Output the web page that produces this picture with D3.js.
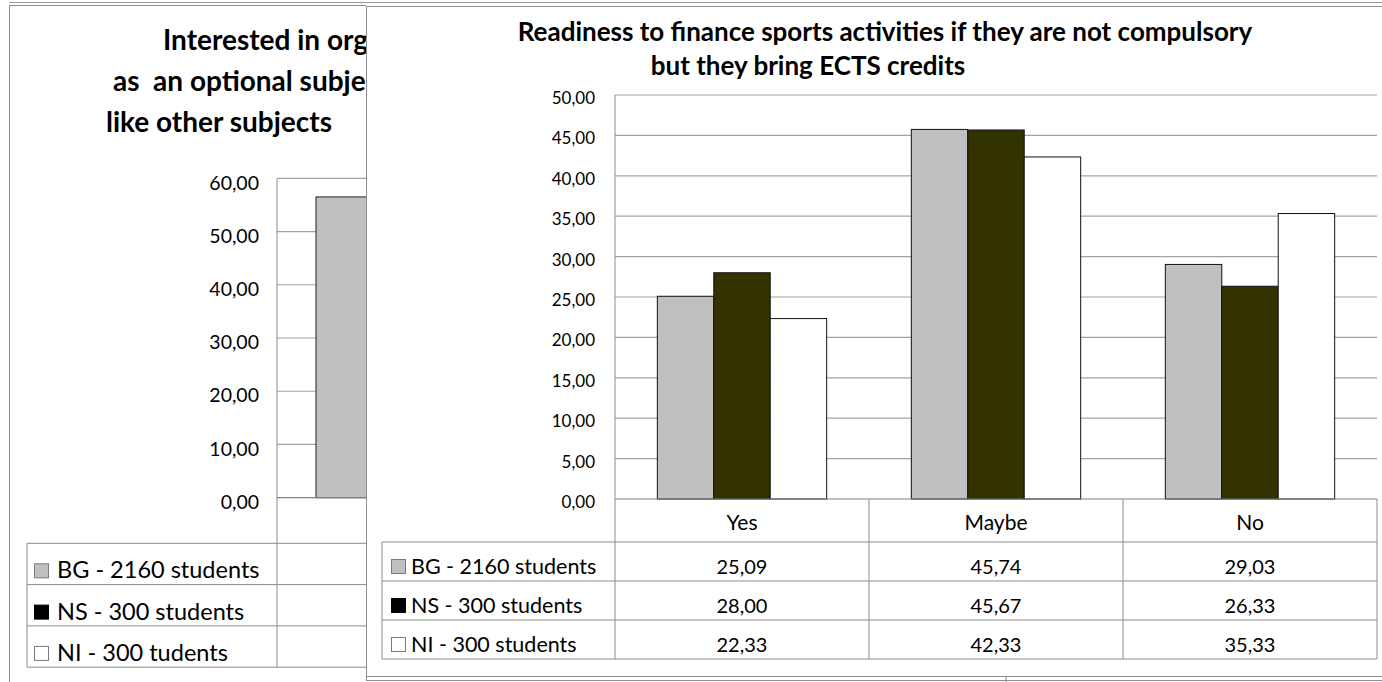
<!DOCTYPE html>
<html>
<head>
<meta charset="utf-8">
<script src="https://cdn.jsdelivr.net/npm/d3@7"></script>
<style>
  html, body { margin: 0; padding: 0; background: #fff; }
  svg { display: block; font-family: Lato, "Open Sans", sans-serif; }
</style>
</head>
<body>
<svg id="chart" width="1382" height="682"></svg>
<script>
// ---- Front chart: readiness to finance sports activities ----
const categories = ["Yes", "Maybe", "No"];
const seriesNames = ["BG - 2160 students", "NS - 300 students", "NI - 300 students"];
const bgValues = [25.09, 45.74, 29.03];
const nsValues = [28.00, 45.67, 26.33];
const niValues = [22.33, 42.33, 35.33];
const yTicks = [0, 5, 10, 15, 20, 25, 30, 35, 40, 45, 50];
const titleLines = ["Readiness to finance sports activities if they are not compulsory",
                    "but they bring ECTS credits"];

// ---- Chart lying underneath (only its left edge shows) ----
const backTitleLines = ["Interested in organized", "as  an optional subject", "like other subjects"];
const backSeriesNames = ["BG - 2160 students", "NS - 300 students", "NI - 300 tudents"];
const backBgValues = [56.5];
const backYTicks = [0, 10, 20, 30, 40, 50, 60];

const seriesColors = ["#c0c0c0", "#333300", "#ffffff"];
const keyColors = ["#c0c0c0", "#000000", "#ffffff"];

const W = 1382, H = 682;
const lineColor = "#8c8c8c";
const gridColor = "#a3a3a3";
const textColor = "#000";

const locale = d3.formatLocale({ decimal: ",", thousands: " ", grouping: [3], currency: ["", ""] });
const fmt = locale.format(".2f");

const svg = d3.select("#chart");
const defs = svg.append("defs");

function hline(g, x1, x2, yv, color, w) {
  g.append("line").attr("x1", x1).attr("x2", x2).attr("y1", yv).attr("y2", yv)
    .attr("stroke", color || lineColor).attr("stroke-width", w || 1);
}
function vline(g, xv, y1, y2, color, w) {
  g.append("line").attr("x1", xv).attr("x2", xv).attr("y1", y1).attr("y2", y2)
    .attr("stroke", color || lineColor).attr("stroke-width", w || 1);
}

// outer frame line along the top
hline(svg, 9, W, 2.5, "#999");

// ================= underlying chart =================
defs.append("clipPath").attr("id", "backClip")
  .append("rect").attr("x", 0).attr("y", 0).attr("width", 366).attr("height", H);
const back = svg.append("g").attr("clip-path", "url(#backClip)");

back.append("rect").attr("x", 9.5).attr("y", 5.5).attr("width", W).attr("height", H)
  .attr("fill", "#fff").attr("stroke", lineColor);

const backTitleX = [163, 113, 106];
back.append("g").selectAll("text").data(backTitleLines).join("text")
  .attr("x", (d, i) => backTitleX[i])
  .attr("y", (d, i) => 50 + i * 41)
  .attr("font-size", 28).attr("font-weight", 700).attr("fill", textColor)
  .style("white-space", "pre")
  .text(d => d);

const by = d3.scaleLinear().domain([0, 60]).range([497.7, 178.3]);
const bx = d3.scaleBand().domain(backBgValues.map((d, i) => i)).range([277, 511]);
const bxs = d3.scaleBand().domain(backSeriesNames).range([0, bx.bandwidth()])
  .paddingInner(0).paddingOuter(0.75);

// gridlines
back.append("g").selectAll("line").data(backYTicks.filter(t => t > 0)).join("line")
  .attr("x1", 277).attr("x2", 520)
  .attr("y1", d => by(d)).attr("y2", d => by(d))
  .attr("stroke", gridColor).attr("stroke-width", 1.2);

// BG bar
back.append("g").selectAll("rect").data(backBgValues).join("rect")
  .attr("x", (d, i) => bx(i) + bxs(backSeriesNames[0]))
  .attr("width", bxs.bandwidth())
  .attr("y", d => by(d))
  .attr("height", d => by(0) - by(d))
  .attr("fill", seriesColors[0]).attr("stroke", "#222").attr("stroke-width", 1);

// y axis labels
const backAxis = back.append("g").attr("transform", "translate(277,0)")
  .call(d3.axisLeft(by).tickValues(backYTicks).tickFormat(fmt).tickSize(0).tickPadding(18));
backAxis.select(".domain").remove();
backAxis.selectAll("text").attr("font-size", 19.5).attr("font-family", "Lato")
  .attr("fill", textColor).attr("dy", "0.55em");

// axis + baseline + data table grid
hline(back, 277, 520, by(0), "#808080", 1.2);
const bRowTop = 543.3, bRowH = 41.3;
vline(back, 277, by(60), bRowTop + 3 * bRowH);
vline(back, 27, bRowTop, bRowTop + 3 * bRowH);
for (let i = 0; i <= 3; i++) hline(back, 27, 520, bRowTop + i * bRowH);

const bLegend = back.append("g").selectAll("g").data(backSeriesNames).join("g")
  .attr("transform", (d, i) => `translate(0,${bRowTop + i * bRowH + 35})`);
bLegend.append("rect").attr("x", 34.5).attr("y", -14.5).attr("width", 14).attr("height", 14)
  .attr("fill", (d, i) => keyColors[i]).attr("stroke", (d, i) => i === 1 ? "#000" : "#7a7a7a");
bLegend.append("text").attr("x", 57).attr("y", 0)
  .attr("font-size", 23.5).attr("fill", textColor).text(d => d);

// ================= front chart =================
const front = svg.append("g");
front.append("rect").attr("x", 366.5).attr("y", 6.5).attr("width", W).attr("height", 674)
  .attr("fill", "#fff").attr("stroke", lineColor);
hline(front, 366, W, 676.5, lineColor);
vline(front, 1006, 676.5, H, lineColor);

// title
const titleCenters = [885, 808];
front.append("g").selectAll("text").data(titleLines).join("text")
  .attr("x", (d, i) => titleCenters[i])
  .attr("y", (d, i) => 41 + i * 34)
  .attr("text-anchor", "middle")
  .attr("font-size", 26).attr("font-weight", 700).attr("fill", textColor)
  .text(d => d);

const plotLeft = 615, plotRight = 1377;
const y = d3.scaleLinear().domain([0, 50]).range([499, 95]);
const x = d3.scaleBand().domain(categories).range([plotLeft, plotRight]);
const xs = d3.scaleBand().domain(seriesNames).range([0, x.bandwidth()])
  .paddingInner(0).paddingOuter(0.75);

// gridlines
front.append("g").selectAll("line").data(yTicks.filter(t => t > 0)).join("line")
  .attr("x1", plotLeft).attr("x2", plotRight)
  .attr("y1", d => y(d)).attr("y2", d => y(d))
  .attr("stroke", gridColor).attr("stroke-width", 1.2);

// y axis labels
const yAxis = front.append("g").attr("transform", `translate(${plotLeft},0)`)
  .call(d3.axisLeft(y).tickValues(yTicks).tickFormat(fmt).tickSize(0).tickPadding(20));
yAxis.select(".domain").remove();
yAxis.selectAll("text").attr("font-size", 17).attr("font-family", "Lato")
  .attr("fill", textColor).attr("dy", "0.5em");

// bars
const series = seriesNames.map((name, i) => ({
  name, color: seriesColors[i], values: [bgValues, nsValues, niValues][i]
}));
front.append("g").selectAll("g").data(series).join("g")
  .attr("fill", d => d.color)
  .selectAll("rect")
  .data(s => s.values.map((v, j) => ({ name: s.name, cat: categories[j], v })))
  .join("rect")
  .attr("x", d => x(d.cat) + xs(d.name))
  .attr("width", xs.bandwidth())
  .attr("y", d => y(d.v))
  .attr("height", d => y(0) - y(d.v))
  .attr("stroke", "#111").attr("stroke-width", 1);

// data table
const headerTop = y(0), rowTop = 542, rowH = 39;
const tableBottom = rowTop + 3 * rowH;
hline(front, plotLeft, plotRight, headerTop, "#808080", 1.2);
vline(front, plotLeft, y(50), tableBottom);
categories.forEach(c => vline(front, x(c) + x.bandwidth(), headerTop, tableBottom));
vline(front, 382, rowTop, tableBottom);
for (let i = 0; i <= 3; i++) hline(front, 382, plotRight, rowTop + i * rowH);

front.append("g").selectAll("text").data(categories).join("text")
  .attr("x", d => x(d) + x.bandwidth() / 2)
  .attr("y", headerTop + 31)
  .attr("text-anchor", "middle")
  .attr("font-size", 21).attr("fill", textColor)
  .text(d => d);

const rows = front.append("g").selectAll("g").data(series).join("g")
  .attr("transform", (d, i) => `translate(0,${rowTop + i * rowH + 32})`);
rows.append("rect").attr("x", 391.5).attr("y", -14.5).attr("width", 14).attr("height", 14)
  .attr("fill", (d, i) => keyColors[i]).attr("stroke", (d, i) => i === 1 ? "#000" : "#7a7a7a");
rows.append("text").attr("x", 411).attr("y", 0)
  .attr("font-size", 21.5).attr("fill", textColor).text(d => d.name);
rows.selectAll("text.val").data(d => d.values.map((v, j) => ({ v, cat: categories[j] })))
  .join("text").attr("class", "val")
  .attr("x", d => x(d.cat) + x.bandwidth() / 2)
  .attr("y", 0)
  .attr("text-anchor", "middle")
  .attr("font-size", 20).attr("fill", textColor)
  .text(d => fmt(d.v));
</script>
</body>
</html>
